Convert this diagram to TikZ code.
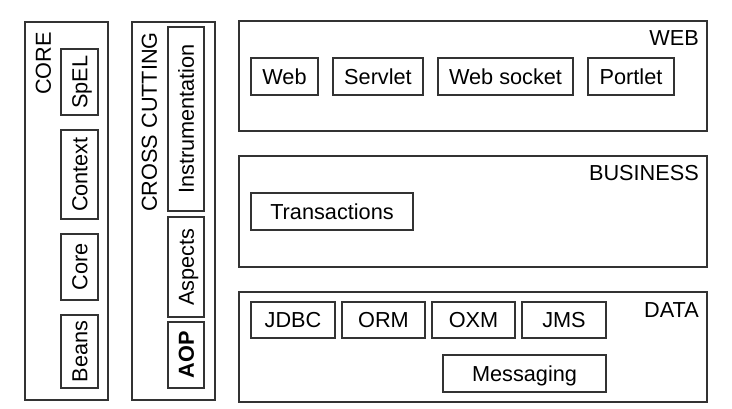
\documentclass[tikz,border=0pt]{standalone}
\usepackage{fontspec}
\setmainfont{Liberation Sans}
\begin{document}
\begin{tikzpicture}[x=1pt,y=-1pt,
  every node/.style={font=\fontsize{21.7}{26}\selectfont},
  outer/.style={draw=black!80,line width=1.2pt,inner sep=0pt},
  box/.style={draw=black!80,line width=1.2pt,inner sep=0pt,text height=15.5pt,text depth=0pt},
  lbl/.style={inner sep=0pt,text height=15.5pt,text depth=0pt},
  vbox/.style={box,rotate=90}]
\useasboundingbox (0,0) rectangle (732,408);
% CORE
\node[outer,minimum width=83pt,minimum height=378pt] (core) at (66.5,211) {};
\node[lbl,rotate=90,anchor=east] (corel) at (43,32) {CORE};
\node[vbox,minimum width=66pt,minimum height=37pt] (spel) at (79.5,82) {SpEL};
\node[vbox,minimum width=89pt,minimum height=37pt] (context) at (79.5,174.5) {Context};
\node[vbox,minimum width=66pt,minimum height=37pt] (corem) at (79.5,267) {Core};
\node[vbox,minimum width=73pt,minimum height=37pt] (beans) at (79.5,351.5) {Beans};
% CROSS CUTTING
\node[outer,minimum width=83pt,minimum height=378pt] (cross) at (173.5,211) {};
\node[lbl,rotate=90,anchor=east] (crossl) at (149,32) {CROSS CUTTING};
\node[vbox,minimum width=184pt,minimum height=36pt] (instr) at (186,119) {Instrumentation};
\node[vbox,minimum width=100pt,minimum height=36pt] (aspects) at (186,267) {Aspects};
\node[vbox,minimum width=66pt,minimum height=36pt,font=\fontsize{21.7}{26}\selectfont\bfseries] (aop) at (186,355) {AOP};
% WEB
\node[outer,minimum width=468pt,minimum height=110pt] (web) at (473,76) {};
\node[lbl,anchor=north east] (webl) at (699,30) {WEB};
\node[box,minimum width=67pt,minimum height=37pt] (webm) at (284.5,76.5) {Web};
\node[box,minimum width=90pt,minimum height=37pt] (servlet) at (378,76.5) {Servlet};
\node[box,minimum width=135pt,minimum height=37pt] (websocket) at (505.5,76.5) {Web socket};
\node[box,minimum width=86pt,minimum height=37pt] (portlet) at (631,76.5) {Portlet};
% BUSINESS
\node[outer,minimum width=468pt,minimum height=111pt] (business) at (473,211.5) {};
\node[lbl,anchor=north east] (businessl) at (699,165) {BUSINESS};
\node[box,minimum width=162pt,minimum height=37pt] (trans) at (332,211.5) {Transactions};
% DATA
\node[outer,minimum width=468pt,minimum height=110pt] (data) at (473,347) {};
\node[lbl,anchor=north east] (datal) at (699,302) {DATA};
\node[box,minimum width=84pt,minimum height=36pt] (jdbc) at (293,320) {JDBC};
\node[box,minimum width=83pt,minimum height=36pt] (orm) at (383.5,320) {ORM};
\node[box,minimum width=83pt,minimum height=36pt] (oxm) at (473.5,320) {OXM};
\node[box,minimum width=84pt,minimum height=36pt] (jms) at (564,320) {JMS};
\node[box,minimum width=163pt,minimum height=37pt] (messaging) at (524.5,373.5) {Messaging};
\end{tikzpicture}
\end{document}
